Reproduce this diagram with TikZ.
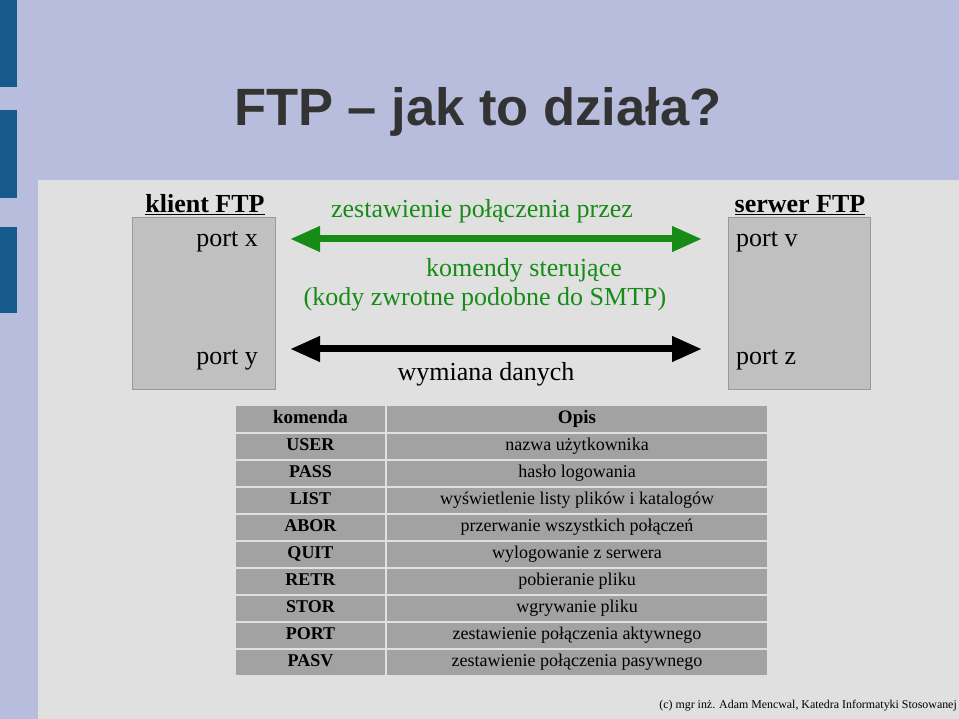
\documentclass[tikz,border=0pt]{standalone}
\usepackage{fontspec}
\setmainfont{Liberation Serif}
\newfontfamily\titlefont{Liberation Sans}
\usetikzlibrary{arrows.meta}
\definecolor{lav}{HTML}{B9BDDD}
\definecolor{barblue}{HTML}{155A8A}
\definecolor{bgg}{HTML}{E0E0E0}
\definecolor{boxg}{HTML}{C0C0C0}
\definecolor{cellg}{HTML}{A2A2A2}
\definecolor{grn}{HTML}{168C16}
\tikzset{
 cell/.style={fill=cellg,draw=bgg,line width=1.2pt,minimum height=27pt,inner sep=0pt,anchor=center,text height=12.5pt,text depth=4.5pt,font=\fontsize{18}{20}\selectfont},
 lbl/.style={inner sep=0pt,font=\fontsize{26}{30}\selectfont},
 bigarrow/.style={line width=7pt,{Triangle[length=30pt,width=24pt]}-{Triangle[length=30pt,width=24pt]}},
}
\begin{document}
\begin{tikzpicture}[x=1pt,y=-1pt]
\useasboundingbox (0,0) rectangle (959,719);
\fill[lav] (0,0) rectangle (959,719);
\fill[barblue] (0,0) rectangle (17,87);
\fill[barblue] (0,110) rectangle (17,198);
\fill[barblue] (0,227) rectangle (17,313);
\fill[bgg] (38,180) rectangle (959,719);
\node[inner sep=0pt,anchor=west,text=black!80,font=\titlefont\bfseries\fontsize{52.5}{58}\selectfont] (title) at (234,112) {FTP – jak to działa?};
% boxes
\node[draw=gray!80,fill=boxg,minimum width=143pt,minimum height=172pt,inner sep=0pt] (cli) at (203.5,303) {};
\node[draw=gray!80,fill=boxg,minimum width=142pt,minimum height=172pt,inner sep=0pt] (srv) at (799,303) {};
\node[lbl,anchor=south] (clit) at (205,215) {\underline{\textbf{klient FTP}}};
\node[lbl,anchor=south] (srvt) at (800,215) {\underline{\textbf{serwer FTP}}};
\node[lbl,anchor=east] (px) at (258,242) {port x};
\node[lbl,anchor=east] (py) at (258,360) {port y};
\node[lbl,anchor=west] (pv) at (736,242) {port v};
\node[lbl,anchor=west] (pz) at (736,360) {port z};
\coordinate (gl) at (290,239); \coordinate (gr) at (702,239);
\coordinate (bl) at (290,349); \coordinate (br) at (702,349);
\draw[bigarrow,grn] (gl) -- (gr);
\draw[bigarrow,black] (bl) -- (br);
\node[lbl,text=grn] (t1) at (482,211) {zestawienie połączenia przez};
\node[lbl,text=grn] (t2) at (524,270) {komendy sterujące};
\node[lbl,text=grn] (t3) at (485,299) {(kody zwrotne podobne do SMTP)};
\node[lbl] (t4) at (486,374) {wymiana danych};
% table
\foreach \i/\a/\b [count=\k from 0] in {
 USER/nazwa użytkownika,
 PASS/hasło logowania,
 LIST/wyświetlenie listy plików i katalogów,
 ABOR/przerwanie wszystkich połączeń,
 QUIT/wylogowanie z serwera,
 RETR/pobieranie pliku,
 STOR/wgrywanie pliku,
 PORT/zestawienie połączenia aktywnego,
 PASV/zestawienie połączenia pasywnego}{
 \node[cell,minimum width=151pt] (c\k) at (310.5,{446.5+27*\k}) {\textbf{\i}};
 \node[cell,minimum width=382pt] (d\k) at (577,{446.5+27*\k}) {\a};
}
\node[cell,minimum width=151pt,minimum height=28pt,font=\fontsize{19}{21}\selectfont] (ch) at (310.5,419) {\textbf{komenda}};
\node[cell,minimum width=382pt,minimum height=28pt,font=\fontsize{19}{21}\selectfont] (dh) at (577,419) {\textbf{Opis}};
\node[inner sep=0pt,anchor=east,font=\fontsize{11.9}{14}\selectfont] (foot) at (957,706) {(c) mgr inż. Adam Mencwal, Katedra Informatyki Stosowanej};
\end{tikzpicture}
\end{document}
